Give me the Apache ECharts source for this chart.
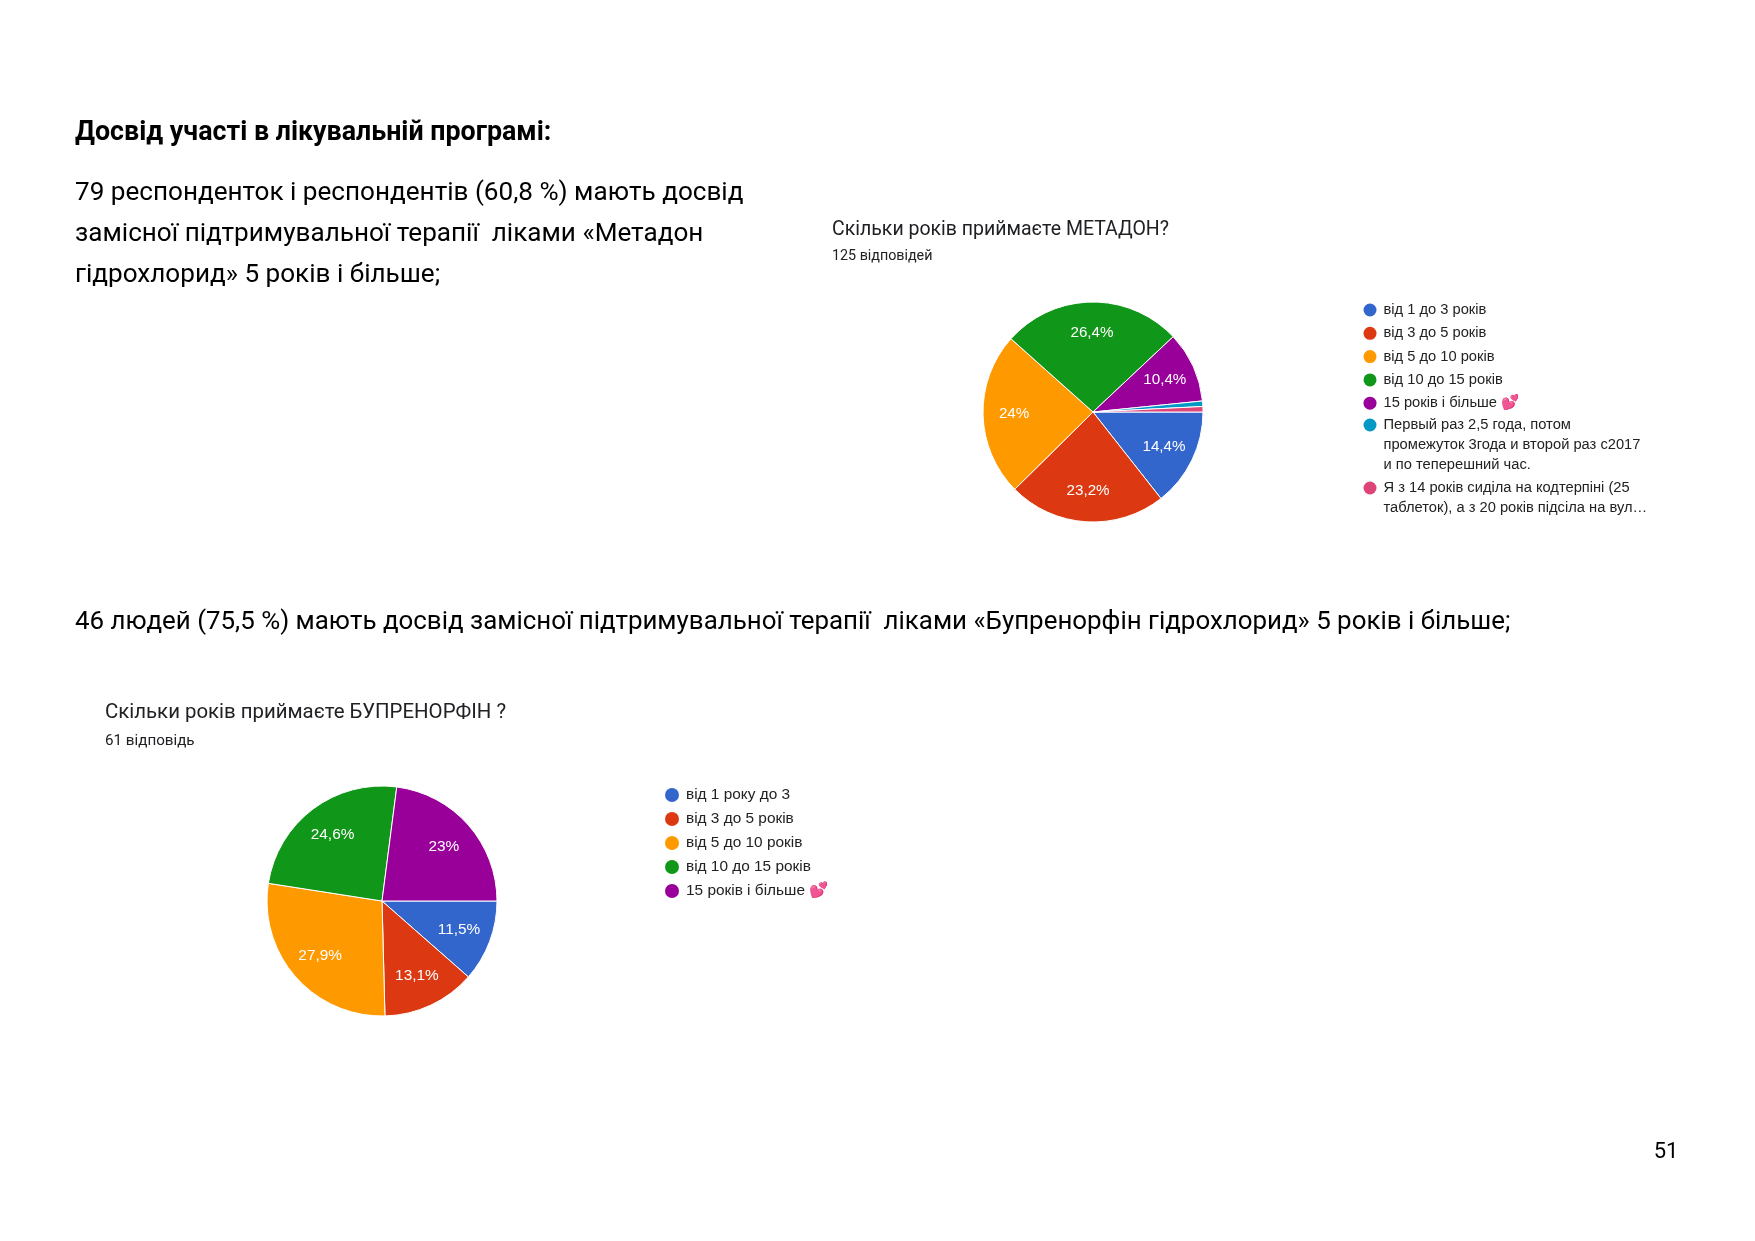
<!DOCTYPE html>
<html><head><meta charset="utf-8">
<script src="https://cdn.jsdelivr.net/npm/echarts@6/dist/echarts.min.js"></script>
<style>html,body{margin:0;padding:0;background:#fff}#c{width:1755px;height:1241px}</style>
</head><body><div id="c"></div>
<script>
// ---- page texts ----
const pageHeading = 'Досвід участі в лікувальній програмі:';
const paragraph1Lines = [
  '79 респонденток і респондентів (60,8 %) мають досвід',
  'замісної підтримувальної терапії  ліками «Метадон',
  'гідрохлорид» 5 років і більше;'
];
const paragraph2 = '46 людей (75,5 %) мають досвід замісної підтримувальної терапії  ліками «Бупренорфін гідрохлорид» 5 років і більше;';
const pageNumber = '51';

// ---- chart 1: methadone ----
const methadoneTitle = 'Скільки років приймаєте МЕТАДОН?';
const methadoneSubtitle = '125 відповідей';
const methadoneCategories = [
  'від 1 до 3 років',
  'від 3 до 5 років',
  'від 5 до 10 років',
  'від 10 до 15 років',
  '15 років і більше 💕',
  'Первый раз 2,5 года, потом\nпромежуток 3года и второй раз с2017\nи по теперешний час.',
  'Я з 14 років сиділа на кодтерпіні (25\nтаблеток), а з 20 років підсіла на вул…'
];
const methadoneCounts = [18, 29, 30, 33, 13, 1, 1];

// ---- chart 2: buprenorphine ----
const bupTitle = 'Скільки років приймаєте БУПРЕНОРФІН ?';
const bupSubtitle = '61 відповідь';
const bupCategories = [
  'від 1 року до 3',
  'від 3 до 5 років',
  'від 5 до 10 років',
  'від 10 до 15 років',
  '15 років і більше 💕'
];
const bupCounts = [7, 8, 17, 15, 14];

const sliceColors = ['#3366cc', '#dc3912', '#ff9900', '#109618', '#990099', '#0099c6', '#dd4477'];

const docFont = 'Roboto';
const chartFont = '"Liberation Sans", Arial, sans-serif';

function pieSeries(name, cats, counts, center, r, fontSize) {
  const total = counts.reduce((a, b) => a + b, 0);
  const fmt = p => {
    const pct = Math.round(p.value / total * 1000) / 10;
    return pct < 5 ? '' : String(pct).replace('.', ',') + '%';
  };
  return [
    {
      type: 'pie', name: name, center: center, radius: r,
      startAngle: 0, clockwise: true, animation: false, silent: true,
      data: cats.map((c, i) => ({ name: c, value: counts[i], itemStyle: { color: sliceColors[i] } })),
      itemStyle: { borderColor: '#fff', borderWidth: 1 },
      label: { show: false }, labelLine: { show: false }
    },
    {
      type: 'pie', name: name + ' labels', center: center, radius: [r * 0.38, r],
      startAngle: 0, clockwise: true, animation: false, silent: true,
      data: cats.map((c, i) => ({ name: c, value: counts[i] })),
      itemStyle: { color: 'rgba(0,0,0,0)', borderWidth: 0 },
      label: { show: true, position: 'inside', color: '#fff', fontSize: fontSize, fontFamily: chartFont, formatter: fmt },
      labelLine: { show: false }
    }
  ];
}

const legendText = (size) => ({ fontSize: size, lineHeight: 20, color: '#222', fontFamily: chartFont });
const legendIconStyle = { borderWidth: 0 };

const chart = echarts.init(document.getElementById('c'), null, { renderer: 'canvas' });
chart.setOption({
  backgroundColor: '#fff',
  animation: false,
  graphic: [
    { type: 'text', x: 75, y: 133, style: { text: pageHeading, fontFamily: docFont, fontWeight: 'bold', fontSize: 26.8, fill: '#000', verticalAlign: 'middle' } },
    { type: 'text', x: 75, y: 234, style: { text: paragraph1Lines.join('\n'), fontFamily: docFont, fontSize: 26.1, lineHeight: 41, fill: '#000', verticalAlign: 'middle' } },
    { type: 'text', x: 75, y: 623, style: { text: paragraph2, fontFamily: docFont, fontSize: 25.9, fill: '#000', verticalAlign: 'middle' } },
    { type: 'text', x: 832, y: 230, style: { text: methadoneTitle, fontFamily: docFont, fontSize: 19.5, fill: '#202124', verticalAlign: 'middle' } },
    { type: 'text', x: 832, y: 256.5, style: { text: methadoneSubtitle, fontFamily: docFont, fontSize: 14.3, fill: '#202124', verticalAlign: 'middle' } },
    { type: 'text', x: 105, y: 713, style: { text: bupTitle, fontFamily: docFont, fontSize: 20.4, fill: '#202124', verticalAlign: 'middle' } },
    { type: 'text', x: 105, y: 741, style: { text: bupSubtitle, fontFamily: docFont, fontSize: 15.2, fill: '#202124', verticalAlign: 'middle' } },
    { type: 'text', x: 1666, y: 1152, style: { text: pageNumber, fontFamily: docFont, fontSize: 22, fill: '#000', align: 'center', verticalAlign: 'middle' } }
  ],
  legend: [
    { orient: 'vertical', left: 1363.5, top: 300, padding: 0, itemWidth: 17, itemHeight: 13, itemGap: 3.3, icon: 'circle', selectedMode: false,
      itemStyle: legendIconStyle, data: methadoneCategories.slice(0, 5), textStyle: legendText(14.7) },
    { orient: 'vertical', left: 1363.5, top: 375, padding: 0, itemWidth: 17, itemHeight: 13, icon: 'circle', selectedMode: false,
      itemStyle: legendIconStyle, data: [methadoneCategories[5]], formatter: n => '\n\n' + n, textStyle: legendText(14.7) },
    { orient: 'vertical', left: 1363.5, top: 458, padding: 0, itemWidth: 17, itemHeight: 13, icon: 'circle', selectedMode: false,
      itemStyle: legendIconStyle, data: [methadoneCategories[6]], formatter: n => '\n' + n, textStyle: legendText(14.7) },
    { orient: 'vertical', left: 665, top: 785, padding: 0, itemWidth: 18, itemHeight: 14, itemGap: 4, icon: 'circle', selectedMode: false,
      itemStyle: legendIconStyle, data: bupCategories, textStyle: legendText(15.4) }
  ],
  series: [
    ...pieSeries('methadone', methadoneCategories, methadoneCounts, [1093, 412], 110, 15.2),
    ...pieSeries('buprenorphine', bupCategories, bupCounts, [382, 901], 115, 15.4)
  ]
});
</script></body></html>
